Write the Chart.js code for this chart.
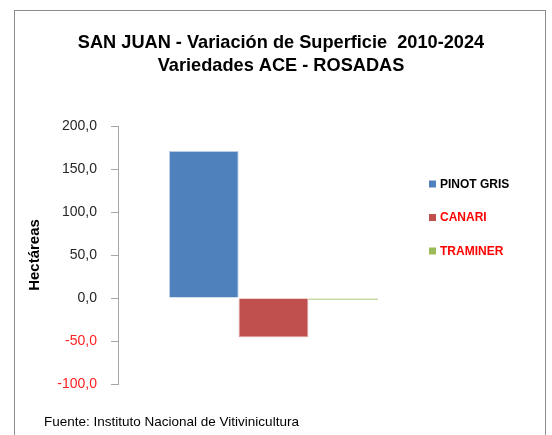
<!DOCTYPE html>
<html>
<head>
<meta charset="utf-8">
<script src="https://cdn.jsdelivr.net/npm/chart.js@4.4.1/dist/chart.umd.min.js"></script>
<style>
    html, body { margin: 0; padding: 0; background: #fff; overflow: hidden; }
    #wrap { position: relative; width: 552px; height: 435px; }
    #frame { position: absolute; left: 14px; top: 10px; width: 530px; height: 460px; border: 1px solid #8c8c8c; }
    canvas { position: absolute; left: 0; top: 0; }
</style>
</head>
<body>
<div id="wrap">
    <div id="frame"></div>
    <canvas id="chart" width="552" height="435"></canvas>
</div>
<script>
// 数据
const tituloLineas = ['SAN JUAN - Variación de Superficie  2010-2024', 'Variedades ACE - ROSADAS'];
const categorias = [''];
const variedades = ['PINOT GRIS', 'CANARI', 'TRAMINER'];
const variacion = [171, -45.5, -2];
const ticksEje = [-100, -50, 0, 50, 100, 150, 200];
const tituloEje = 'Hectáreas';
const fuente = 'Fuente: Instituto Nacional de Vitivinicultura';

const colores = ['#4f81bd', '#c0504d', '#9bbb59'];
const bordes = ['#b9cde5', '#d99694', '#9bbb59'];
const coloresLeyenda = ['#000000', '#ff0000', '#ff0000'];
const FONT = '"Liberation Sans", Arial, sans-serif';

// 格式化数字 (coma decimal)
function formatoNumero(v) {
    return v.toFixed(1).replace('.', ',');
}

// 标题、图例、来源
const decorPlugin = {
    id: 'decor',
    afterDraw(chart) {
        const ctx = chart.ctx;
        ctx.save();
        ctx.textBaseline = 'middle';

        ctx.fillStyle = '#000';
        ctx.textAlign = 'center';
        ctx.font = 'bold 18.2px ' + FONT;
        tituloLineas.forEach((t, i) => ctx.fillText(t, 281, 43 + i * 23));

        ctx.textAlign = 'left';
        ctx.font = 'bold 12px ' + FONT;
        chart.data.datasets.forEach((ds, i) => {
            const y = 184 + i * 33.5;
            ctx.fillStyle = ds.backgroundColor;
            ctx.fillRect(429, y - 3.5, 7, 7);
            ctx.fillStyle = coloresLeyenda[i];
            ctx.fillText(ds.label, 440, y + 0.5);
        });

        ctx.fillStyle = '#000';
        ctx.font = '13.5px ' + FONT;
        ctx.fillText(fuente, 44, 422);
        ctx.restore();
    }
};

new Chart(document.getElementById('chart').getContext('2d'), {
    type: 'bar',
    data: {
        labels: categorias,
        datasets: variedades.map((v, i) => ({
            label: v,
            data: [variacion[i]],
            backgroundColor: colores[i],
            borderColor: bordes[i],
            borderWidth: 1,
            barPercentage: 1,
            categoryPercentage: 0.672
        }))
    },
    options: {
        responsive: false,
        animation: false,
        devicePixelRatio: 1,
        layout: { padding: { left: 14, right: 123, top: 126, bottom: 51 } },
        plugins: {
            legend: { display: false },
            title: { display: false },
            tooltip: { enabled: false }
        },
        scales: {
            x: { display: false },
            y: {
                min: ticksEje[0],
                max: ticksEje[ticksEje.length - 1],
                afterBuildTicks: (scale) => { scale.ticks = ticksEje.map(v => ({ value: v })); },
                afterFit: (scale) => { scale.width = 104; },
                grid: { drawOnChartArea: false, drawTicks: true, tickLength: 7, color: '#a6a6a6' },
                border: { color: '#a6a6a6' },
                ticks: {
                    padding: 14,
                    font: { family: FONT, size: 14 },
                    color: (c) => c.tick.value < 0 ? '#ff2020' : '#262626',
                    callback: (v) => formatoNumero(v)
                },
                title: {
                    display: true,
                    text: tituloEje,
                    color: '#000',
                    font: { family: FONT, size: 15, weight: 'bold' },
                    padding: { top: 12, bottom: 0 }
                }
            }
        }
    },
    plugins: [decorPlugin]
});
</script>
</body>
</html>
